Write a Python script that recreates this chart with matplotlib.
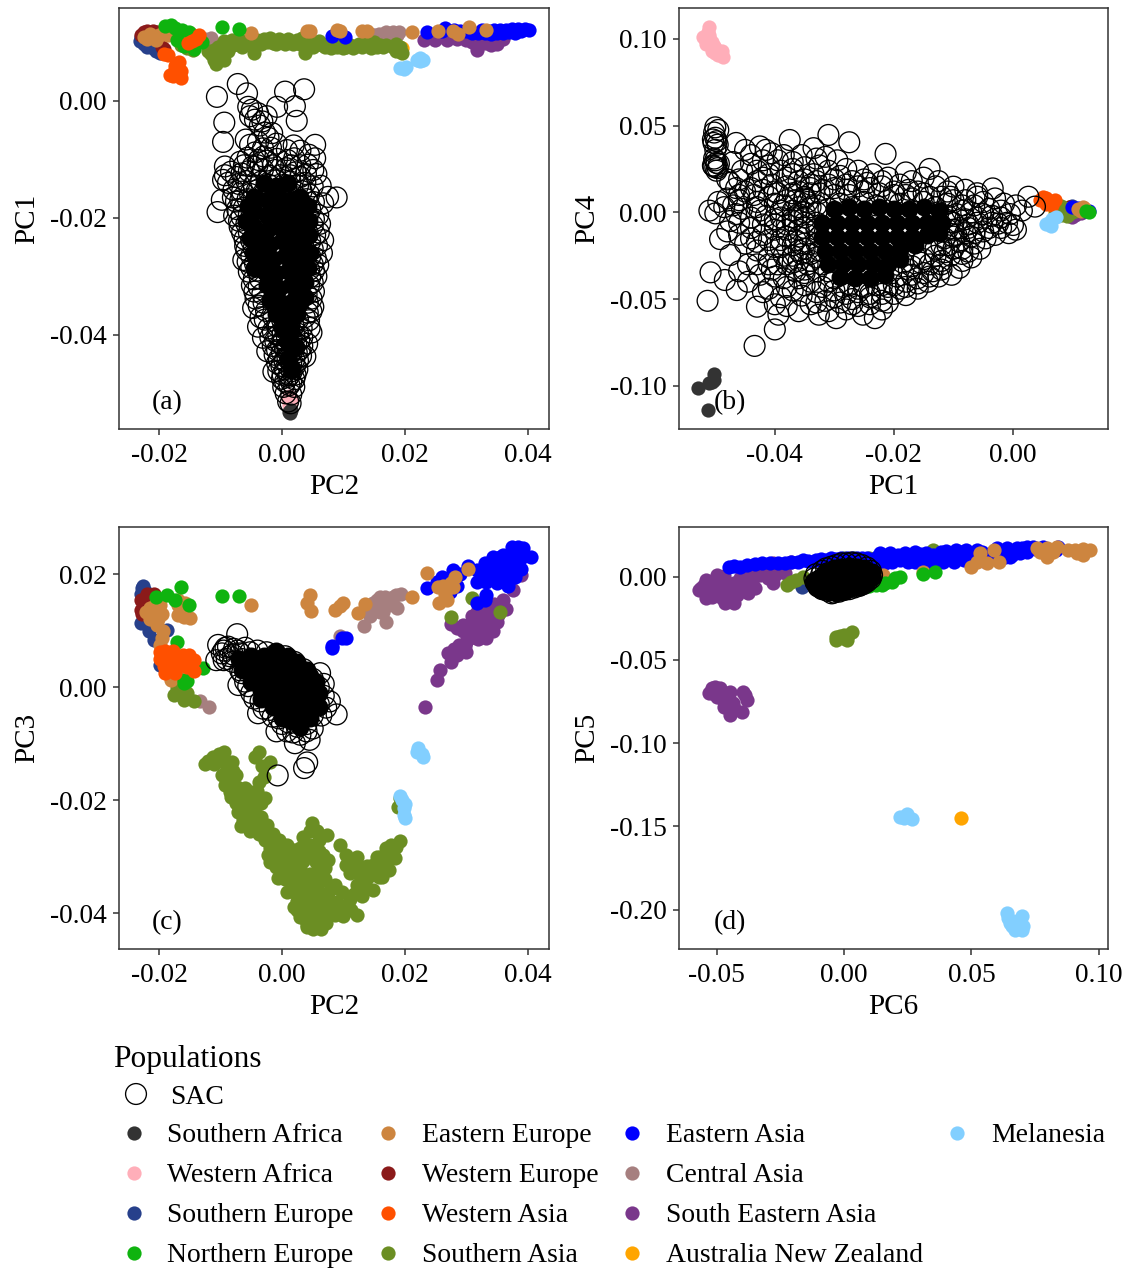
import numpy as np
import matplotlib
matplotlib.use('Agg')
import matplotlib.pyplot as plt

plt.rcParams['font.family'] = ['Liberation Serif', 'DejaVu Serif']
plt.rcParams['axes.unicode_minus'] = False

# panel (a): PC2 / PC1
a_sac = [-10.6,.7, -7.2,2.9, -5.7,1.3, .5,1.6, 3.6,2, 2.1,-.9, -.8,-1, 2.4,-3.4, -9.4,-3.7, -9.6,-7, -5.5,-1, -4.9,-1.5,
    -3.9,-2.1, -5.2,-2.6, -4.4,-3.2, -3.2,-3.5, -2.5,-2.6, -3.6,-4.2, -2.8,-5.4, -1.6,-5.5, -2.2,-6.3, -5.9,-6.6, -5.2,-7.5,
    -3.9,-7, -3.1,-8.1, -4.4,-8.8, -1.8,-8, -.9,-7.3, .8,-8.4, 1.9,-7.6, 3,-8.5, 5.4,-7.5, 5.4,-9.8, 5.1,-11.8, 4.4,-9.2,
    2,-9.8, .9,-10.1, -.8,-9.9, -2.5,-10.2, -3.8,-10.1, -5.6,-9.7, -6.8,-10.4, -9.3,-11.2, -9.3,-12.7, -8.3,-12.1, -6.6,-12.4,
    -5.4,-12, -3.1,-11.7, -1.1,-11.8, .7,-11.5, 2.2,-12.2, 3.9,-12.5, 5.6,-12.5, -10.5,-19, -9.8,-16.9, 8.9,-16.5, 7.5,-16.4,
    6.7,-23.8, 5.6,-30, 5.1,-35.2, 3.8,-43.7, -6.3,-27.2, -4.9,-31.5, -3.9,-38.6, -1.4,-46.3, -9.6,-13.5, -8.8,-14, -7.9,-15.2,
    6.3,-14.5, 6.7,-17.5, 5.9,-19.5, -7.5,-17.2, -7.8,-19.6, -6.9,-21.5, -6.1,-23.6, -5.8,-25.5, 6.5,-26, 5.9,-28, 5.2,-32.6,
    -5.4,-29.2, -4.3,-33.8, -4.7,-35.4, 4.4,-37.5, 4.8,-39.6, -3.1,-40.5, -2.4,-42.8, 4.1,-41.5,
    -7,-14.2, -5.8,-13.7, -4.6,-14.4, -3.4,-13.8, -2.2,-14.3, -1,-13.6, .2,-14.4, 1.4,-13.8, 2.6,-14.5, 3.8,-14, 5,-14.6,
    -6.5,-15.5, -5.2,-15.9, -4.1,-15.3, -2.8,-15.8, -1.6,-15.4, -.4,-16, .8,-15.5, 2,-16, 3.2,-15.4, 4.4,-16,
    -6.8,-17, -5.6,-16.8, -4.4,-17.3, -3.2,-16.9, -2,-17.4, -.8,-16.8, .4,-17.3, 1.6,-16.9, 2.8,-17.4, 4,-16.8, 5.2,-17.3,
    -6.2,-18.3, -5,-18.7, -3.8,-18.2, 3.4,-18.1, 4.6,-18.6, -6.6,-19.8, -5.4,-19.5, 4.2,-19.6, 5.2,-20.2,
    -5.8,-21, -4.6,-21.3, 3.8,-20.9, 5,-21.3, -5.4,-22.5, -4.2,-22.2, 4.2,-22.6, 5.4,-22.9,
    -5,-23.9, 4.6,-24, -4.6,-25.2, 5,-25.3, -5,-26.5, 4.6,-26.6, -4.4,-27.8, 5,-27.9, -4,-29, 4.4,-28.9,
    -3.6,-30.4, 4.6,-30.1, -3.8,-31.8, 4.4,-31.5, -3.2,-33, 4,-33.1, -3,-34.5, 4.2,-34.5, -2.6,-35.9, 4.2,-36.2,
    -2.8,-37.4, -1.4,-37, 0,-37.4, 1.3,-37, 2.6,-37.4, 3.7,-37,
    -2.2,-38.9, -.8,-38.5, .6,-38.9, 1.9,-38.5, 3.2,-38.9, -1.5,-39.4, .1,-39.8, 1.2,-39.3, 2.6,-39.8,
    -1.9,-40.4, -.6,-40, .8,-40.4, 2,-40, 3.3,-40.4, -1.1,-41, .2,-40.9, 1.5,-41, 2.8,-40.9,
    -1.5,-41.9, -.2,-41.5, 1,-41.9, 2.3,-41.5, 3.3,-41.9, -.8,-42.6, .5,-42.4, 1.7,-42.7, 2.9,-42.5,
    -1.2,-43.4, 0,-43, 1.2,-43.4, 2.4,-43, 3.1,-43.6, -.5,-44.1, .9,-44, 2,-44.2,
    -.8,-44.8, .4,-44.4, 1.5,-44.8, 2.6,-44.4, -.1,-45.3, 1,-45.3, 2.1,-45.3,
    -.6,-46.2, .5,-45.9, 1.6,-46.2, 2.5,-45.9, .1,-46.8, 1.2,-46.9, 2.2,-46.8,
    0,-47.5, 1,-47.2, 2,-47.6, .5,-48, 1.5,-48.1,
    .2,-48.9, 1.2,-48.6, 2,-48.9, .6,-50, 1.5,-50.2, 1,-51.4, 1.4,-51.7,
    -4,-11, -3,-9.5, -1.5,-11, -.3,-12.7, 1.5,-11, 3,-11, 4.2,-10.9, -4.8,-11.2, -2,-12.8, 1.3,-12.7, 3,-13, -7.5,-13, -6.2,-11, -8,-16.5,
    -7.3,-18.5, -7,-20.5, -6.5,-22.5, -6,-24.8, -5.6,-27.5, -5,-28.5, -4.6,-30.5, -4.5,-32.6, -3.8,-35, -3.5,-37, 6.2,-21, 6,-22.5, 5.7,-24.7,
    5.5,-26.9, 5.2,-29, 5,-31, 4.8,-33.8, 4.8,-36, 4.5,-38.8]
# the middle of the SAC cloud is saturated: single rings can't be read there, so it is drawn as solid discs
a_core = [-3,-14, -1,-14.5, 1,-14, -4.5,-16.5, -2.5,-17, -.5,-16.5, 1.5,-17, 3,-16.5, -4.5,-19, -2.5,-19.5, -.5,-19, 1.5,-19.5, 3,-19,
    -4.5,-21.5, -2.5,-22, -.5,-21.5, 1.5,-22, 3,-21.5, -4,-24, -2,-24.5, 0,-24, 2,-24.5, 3.5,-24, -3.5,-26.5, -1.5,-27, .5,-26.5, 2.5,-27, 3.5,-26.5,
    -3,-29, -1,-29.5, 1,-29, 3,-29.5, -2.5,-31.5, -.5,-32, 1.5,-31.5, 3,-32, -2,-34, 0,-34.5, 2,-34, 3,-34.5, -1,-36.5, 1,-36.5, 2.5,-36.5,
    -5.6,-18, -5.8,-20.5, 4.3,-18, 4.4,-20.5, 4.4,-23, -5.2,-23.5, -4.7,-26, -4.5,-28.5, 4.5,-26, 4.3,-28.5, 3.8,-31, 3.7,-33.5,
    0,-38.8, 1.5,-39, 1,-41.2, 2.2,-42, 1,-44, 1.6,-46]
a_safr = [1.3,-53, 1.2,-53.2, 1.5,-52.9, 1.3,-53.3]
a_wafr = [1.2,-50.5, 1.3,-50.9, 1,-51.2, 1.4,-51.5, 1.2,-52, 1.5,-50.8, 1.3,-52.4]
a_seur = [-23.2,10.2, -22.5,9.8, -22,9.2, -21,9, -20.5,8.5, -19.8,8.2, -23,11, -21.8,10]
a_neur = [-9.7,12.6, -7,12.3, -17.1,10.4, -13,10, -18,13, -19,12.8, -16.3,12.2, -15.2,11.8, -14.4,8.9, -16,9.4, -17.5,12.5]
a_eeur = [-5,11.6, 4,12, 4.6,11.9, 8.9,12.2, 9.5,11.9, 13,12, 13.8,12, 21.1,11.8, 25.4,11.9, 27.9,11.9, 28.7,11.5, 30.5,12.6,
    33.3,12.1, -22.5,11, -21.5,11.4, -21,10.9, -20,11.2, -19.5,11.5, -18.5,11.3, -22,10.6, -20.5,10.5, -17.1,11.8, -16,11.5, -15,11.6, -14.5,11.3]
a_weur = [-23,11.3, -22.5,11.8, -22,12, -21,12, -20.3,11.8, -19.2,8.9, -19.6,9.3]
a_wasi = [-18.2,4.4, -17.8,4.2, -16.8,4.3, -16.4,4, -17,5, -16.9,5.7, -17.5,6, -16.8,6.6, -17.3,6.1, -18.6,7.8, -19.3,8,
    -15.3,9.9, -14.6,10.2, -14,10.6, -13.6,11.3, -17.6,5, -16.5,5.2]
a_sasi = [-11.5,8, -11,7, -10.8,6.4, -10.2,7.5, -9.5,7, -9.5,8.8, -9.5,10.2, -8.8,8.6, -8.2,10.5, -7.5,9.8, -7,10.5, -6,9.9,
    -5.5,10.4, -5,10.7, -4.5,9.8, -4.5,8.2, -4,10.5, -3,10.6, -2.5,10, -2,10.8, -1,9.8, -.5,10.6, .5,9.8, 1,10.6, 1.8,9.7,
    2.5,10.4, 3,9.8, 3.8,10, 3.8,8.2, 4.5,10.3, 5.5,9.9, 6,10.2, 6.5,9.5, 7,9.3, 7.5,9.7, 8,9, 9,9.2, 9.5,9.6, 10,9, 10.5,9.3,
    11,9.5, 12,9.4, 12.5,9.8, 13,9.2, 13.5,9.7, 14,9.8, 15,10, 15.5,9.3, 16,9.5, 17,9.5, 18,9.3, 18.5,8.5, 19,8.6, 19.3,9.2,
    18.5,9.8, 19.5,8.2, -16.5,9.5, -15.5,9, -14.5,8.7, -8,9.5, -6.5,9.2, -3.5,9.8, -1.5,9.9, 0,10, 3.2,10.8, 5,9.3, 8.5,9.5, 11.5,9, 14.5,9, 16.5,9.2,
    -12,8.5, -11,8.7, -10.5,9.2]
a_easi = [8.1,11.1, 10.2,10.9, 23.6,11.8, 26,12, 26.5,12.4, 28,12.2, 29,12, 30,11.9, 31,11.7, 32,11.7, 32.5,12.1, 33,11.6,
    33.5,11.9, 34,11.5, 34.5,12.1, 35,11.7, 35.5,12.2, 36,11.7, 36.5,12.2, 37,11.8, 37.5,12.3, 38,11.7, 38.5,12.3, 39,12,
    39.5,12.3, 40.3,12.1]
a_casi = [-12.5,10.6, -11.5,10.8, 14.3,11.4, 15,11.2, 15.8,11.5, 16.5,11.5, 17,11.8, 17.5,11.4, 18,11.8, 18.7,11.2, 19,11.8, 18.3,11]
a_seas = [23.2,10.5, 25,10.5, 26.8,10.4, 28.5,10.6, 30,10.4, 31.7,8.8, 31,10, 32,10, 33,9.9, 34,9.6, 35,9.7, 35,10.5, 36,10.6, 29.5,10.9, 33,10.6]
a_anz = [19.5,9]
a_mel = [19.2,5.6, 19.8,5.5, 20.2,5.8, 22,7, 22.5,6.8, 23,7, 22.4,7.3]

# panel (b): PC1 / PC4
b_sac = [-50,49, -49.5,47.5, -50.2,46, -50,43, -50.4,42, -49.8,41, -50.3,40, -49.6,39, -50,36, -50.2,31, -50,30, -49.8,28.5,
    -49.4,28, -50.4,27, -50,26, -49.6,25.5, -50.3,26.5, -49.8,24, -48,19, -31,44.6, -27.5,40.4, -37.5,41.7, -21.4,33.7, -18,23,
    -14,25, -43.4,-77, -40,-67.5, -51.3,-51, -50.8,-34.6, -49.2,-15.4, -47.5,-24.6, -48.4,-39, -46.4,-44.8, -43,-54.4, -39.4,-59,
    -36,-57, -32.6,-59, -29.7,-61, -25.2,-59, -23.2,-61, -18,-47.7, -14.3,-40, -10.3,-36, -7.5,-22.7, -4.6,-15, -.7,-12, 0,-7.3,
    2.6,9, 3.7,3.3, -3.4,13.8, -10,14.8, -8,13, -50,-.6, -49.5,6, -51,1, -48.5,3, -48,8, -47,4, -46.5,-1, -46,7, -45.5,2, -47.5,-5,
    -46.5,40, -45,36, -44,33, -42.5,38, -41.5,36, -40.5,34, -39.5,30, -38.5,33, -42,30, -44,28, -45.5,24, -43,24, -41,22, -39,24,
    -37,22, -35,26, -33.5,22, -36,18, -34,16, -38,15, -40.5,16, -43,18, -31.5,32, -29.5,30, -32.5,27, -28,25, -26,24, -23.5,22,
    -30,19, -27,18, -24.5,17, -21,20, -19,16, -17,18, -15,20, -13,15, -11,12, -12.5,18, -6,11, -5,6, -3,8, -1.5,5, .5,4, 1.5,1,
    -.5,-1, -2,-3, -2.5,-6.5, -3.5,-2, -5,-1, -6,-6, -6.5,-12, -8,-4, -41,9, -40,5, -39,1, -41.5,-2, -38,7, -36,3, -37,-3, -34.5,6,
    -33,0, -35,-6, -44,-9, -42,-13, -40,-10, -38,-14, -36,-10, -45,-18, -43,-22, -41,-26, -39,-20, -37,-25, -35,-18, -44.5,-30,
    -42.5,-36, -40.5,-33, -38.5,-38, -36.5,-34, -34.5,-30, -41,-44, -39,-49, -37,-45, -35,-42, -33,-46, -34,-53, -31.5,-51, -29,-52,
    -27,-50, -31,-40, -28.5,-43, -26,-46, -24,-53, -22,-47, -20,-42, -18,-40, -16,-38, -12,-33, -8.5,-28, -10.5,-25, -12,-28,
    -6.5,-18, -4,-9, -9,-17, -7.5,-9, -10,-6, -11,-10,
    -33,4, -31,2, -29,5, -27,3, -25,6, -23,4, -21,7, -19,5, -17,8, -15,6, -13,3, -11,5,
    -12.5,0, -11,-2, -9.5,-1, -10.5,-5.5, -10,-10, -11.5,-15, -13,-21, -12,-19, -15,-27, -16.5,-25, -15.5,-29, -17,-31, -18.5,-29,
    -17.5,-33, -19.5,-37, -27.5,-42, -25,-43, -23,-42, -21,-43, -33,-26, -32,-30, -31,-34, -30,-38, -33,-18, -32.5,-22, -32.5,-14, -33,-10, -33,-6,
    -47.5,17, -46.5,14, -45,12, -43.5,10, -42,13, -39.5,11, -37,11, -35,9, -32.5,11, -30,10, -27.5,10, -25,12, -22.5,11, -20,12, -17.5,13, -15,11,
    -33.5,37, -35.5,33, -37,29, -33,31, -35,19, -31,24, -29,21, -41,27, -47,29, -46,19, -43,6, -42.5,1, -44,-3, -46,-6, -48,-11, -46,-13, -44,-15,
    -40,-4, -38,-7, -36,-1, -34.5,-13, -36.5,-16, -38.5,-25, -36,-22, -34,-24, -41,-16, -39.5,-30, -37,-29, -35,-35, -33,-34, -42,-46, -44.5,-40,
    -46,-34, -40,-53, -38,-54, -35.5,-48, -31,-57, -28,-56, -26,-54, -22,-56, -21,-52, -16,-44, -12.5,-37, -19,-44, -9,-32, -7,-26, -5.5,-21,
    -3,-13, -2,-9, .5,-10, -1,-6, -3.5,-6, -5,-11, -7,-14, -8.5,-21, -9.5,-13, -8.5,1, -6.5,4, -4,2, -2,1, -8,7, -6,9, -10.5,9,
    -36,12, -34,11, -32,13, -30,14, -28,13, -26,15, -24,14, -22,15, -20,10, -18,10, -16,12, -14,9, -12,9, -10,7, -8.5,4, -7,0, -6,-3, -7.5,-7, -9,-9, -8,-12,
    -10,-14, -11,-19, -10,-21, -8.5,-24, -13,-25, -14,-30, -11.5,-23, -12,-30, -13.5,-34, -15,-35, -17,-36, -14,-37, -16,-41, -18,-43, -20,-47, -22,-42, -24,-47,
    -26,-44, -28,-47, -30,-45, -32,-43, -34,-40, -36,-38, -35,-33, -34,-28, -36,-28, -38,-30, -35.5,-24, -35,-21, -37,-19, -39,-16, -36,-14, -38,-10, -35,-9,
    -37,-5, -35,-3, -37,1, -35,0, -39,-3, -38.5,4, -36.5,7, -34,3, -35,8, -40,-7, -42,-7, -43,-17, -40,-20, -41,-30, -43,-30, -40,-37, -38,-43, -33,-52, -30,-49,
    -27,-53, -24,-49, -22,-51, -34,14, -31,16, -28,16, -25,19, -22,18, -37,25, -42,20, -38,20, -33,18, -40,12, -44,14, -43,3, -46,10]
b_core = [-30,2, -27.5,3, -25,2, -22.5,3, -20,2, -17.5,2, -15,3, -12.5,1, -32,-6, -29.5,-6, -27,-6, -24.5,-6, -22,-6, -19.5,-6, -17,-6, -14.5,-6, -12,-6,
    -32,-14, -29.5,-14, -27,-14, -24.5,-14, -22,-14, -19.5,-14, -17,-14, -14.5,-13, -12.5,-12, -31.5,-22, -29,-22, -26.5,-22, -24,-22, -21.5,-22, -19,-21, -16.5,-19,
    -31,-30, -28.5,-30, -26,-30, -23.5,-30, -21,-30, -19,-27, -29,-37, -26.5,-38, -24,-38, -21.5,-36]
b_safr = [-50.2,-93, -50.3,-96.5, -50.6,-98, -51,-98.5, -52.9,-101, -51.3,-114]
b_wafr = [-51.3,104, -51,107, -51,102, -51.8,100, -51.2,99, -50.8,97, -50.3,96, -50,95, -49.8,93, -49.3,92, -49,91, -49.5,90.5,
    -48.8,93, -51,101, -50.5,98, -52,101, -51.5,97, -50.5,93, -48.7,89.5, -50,92]
b_seur = [10,3.5, 9.5,2.5]
b_neur = [12.7,0, 12.3,1]
b_eeur = [11,2, 11.5,1.5, 12,2.3, 11.5,1, 11.8,2.8]
b_weur = [9.5,3, 10,2]
b_wasi = [4.5,7, 5,9, 5.5,8, 6,6, 6.5,4.5, 5.5,5, 7,7]
b_sasi = [7.5,1.5, 8,.5, 8.5,-.5, 9,1, 9.5,2, 9.5,-1, 10,0, 10.5,1, 11,1.5, 8,3.5, 7,5, 7,2, 8,-1.5, 9,-2]
b_easi = [10,3, 11,2.5, 12,2, 12.7,1, 12.3,.5]
b_casi = [8.5,2.5]
b_seas = [10,-2.5, 10.5,-1.5, 11.5,-.5]
b_anz = [7,-.5]
b_mel = [5.5,-7, 6,-6, 6.5,-4, 7.3,-2.5, 6.4,-7.8]

# panel (c): PC2 / PC3
c_sac = [-7.3,9.4, -10.4,7.5, -10.7,4.8, -7.1,.4, -3.9,-4.6, -.9,-7.8, 2.1,-9.9, 4.5,-9.3, 4.1,-13.3, 3.6,-14.3, -.7,-15.6,
    8.9,-4.8, 7.8,-2.5, 6.2,2.5, .8,-7.8, 4,-7.8, -9.5,6.5, -8.8,7.2, -8.5,5.5, -9.8,6, -8,4.5, -7.2,6.5, -6,7, -6.5,5,
    -5.2,6.2, -4,6.5, -2.5,6.2, -1,5.8, .5,5.5, 2,4.5, 3.5,3.2, 5,1.5, 6,0, 6.8,-1.5, 6,-3, 5,-5, 4,-6.5, 2.5,-7, 1,-6.2,
    -.5,-5.5, -2,-4, -3.5,-2.5, -5,-1, -6,1, -6.8,3, -6.8,6, -7.8,6.8, -9,5, -9.5,4.8, -9.2,7, -8,5.8, -6.5,2.5, -5.5,.2, -4.5,-2, -3,-3.8,
    -1.5,-5.2, 0,-6.5, 1.8,-8, 3,-8.4, 5,-7.3, 6.4,-5, 7.2,-3.6, 6.8,.6]
c_core = [-5.5,4.5, -4,4, -4.5,2.5, -3,3.5, -3,2, -3,.5, -1.5,5.5, -1.5,4, -1.5,2.5, -1.5,1, -1.5,-.5, -1.5,-2, 0,5, 0,3.5, 0,2, 0,.5, 0,-1, 0,-2.5, 0,-4,
    1.5,4.5, 1.5,3, 1.5,1.5, 1.5,0, 1.5,-1.5, 1.5,-3, 1.5,-4.5, 3,3.5, 3,2, 3,.5, 3,-1, 3,-2.5, 3,-4, 3,-5.5, 4.5,2, 4.5,.5, 4.5,-1, 4.5,-2.5, 4.5,-4, 5.5,-2, -3.5,-.5,
    -7,5, -6.5,3, -5,1, -3.5,-2, -1.5,-3.5, 0,-5.5, 1.5,-6, 3,-7, 4.5,-5.5, 6,-3.5, 6,-1, 5.5,1, 4,3, 2.5,4.5, 1,5.5, -1,6.5, -3,5.5, -5,5.5]
c_safr = []
c_wafr = []
c_seur = [-22.8,17.5, -22.3,17, -22.9,11.3, -21.7,9.9, -20.9,8.4, -18.7,10.1, -19.9,4, -22.5,12, -21.5,11, -22.6,18, -23,16.5]
c_neur = [-9.7,16.2, -7,16.2, -16.4,17.7, -18.7,16.3, -15.2,14.6, -17.1,8, -16,1.3, -12.9,3.4, -20.5,16, -14.8,4.5, -17.5,15.5, -15.5,1.2, -16,.8]
c_eeur = [23.6,20.2, 25.4,17.8, 28.2,19.6, 27.9,17.8, 26.8,15.5, 25.5,14.9, 30.3,21, 21.1,15.9, 13.5,14.7, 12.4,13.1, 10,15, 8.7,13.6,
    9.4,14.4, 4.5,16.3, 4,15, 4.7,13.5, -5,14.6, -16.9,15.5, -22.1,13.4, -21,12.8, -19.9,14.6, -20.4,11, -19.6,8.7, -19.4,10,
    -15,12.2, -16.9,12.8, -16,12.4, -21.5,14, -20.5,15, -19.5,13, -16.5,14, -16.9,3.4, -18,1.3, -21.5,12, -20.7,13.5, -20.2,12, -19.8,7.5,
    -16,13.5, -17,14.5, -15.8,15, 27.5,18.5, 26.5,16.5, 26.2,17.9]
c_weur = [-23,15.5, -22.4,15.5, -23,13.7, -20.9,16.6, -22.5,14.5, -21.5,15.8, -22.8,13, -22,16.5]
c_wasi = [-19.9,6.3, -18.2,5.7, -17.1,5.4, -15.2,5.7, -14.4,4.8, -19,2.5, -17.6,4, -14.4,2.8, -19.9,5, -18.6,4, -16,4.6, -18.2,3, -16.9,4.8,
    -15.5,3.6, -19,6.5, -18.9,5, -17.8,6.4, -16.2,5.8, -15,4.4, -17.5,2.6, -19.3,3.8]
c_sasi = [-12.5,-13.5, -12,-13, -11.2,-12.4, -10.3,-11.8, -9.5,-11.4, -8.2,-13.2, -9,-14.5, -8.6,-16, -9.3,-17.3, -8.4,-18.5, -7.4,-17.6,
    -6.3,-18.5, -5,-18.6, -2.7,-19.6, -7.1,-22, -5.2,-25.5, -2.5,-24.4, -1.4,-27.9, .8,-27.9, -2.3,-29.7, -.7,-33.8, .8,-36.2,
    2.4,-37.9, 3,-40.6, 4,-42.4, 6.3,-42.8, 4.9,-24.1, 7.3,-26.1, 6.7,-29.7, 4.5,-27.9, 3,-28.5, 7,-32, 8.7,-35, 9.8,-36.2,
    6,-36.2, 5.4,-40.2, 8.7,-40.3, 12.2,-40.3, 10.7,-38.5, 9.5,-27.9, 10.5,-29.7, 10.5,-31.5, 12.2,-30, 13.8,-31.7, 12.2,-35, 13,-37,
    14.9,-35.9, 16.3,-33.5, 17.4,-32.3, 15.4,-30, 17,-28.5, 19.2,-27.2, 18.4,-30.3, 12.5,-33, 14,-33.5, 13.5,-34.5, 16,-31.5, 17.8,-28,
    -3.8,-11.4, -4.4,-12.4, -1.9,-13.2, -3.2,-14, -3.7,-16.7, -3,-15.8, -8.3,-19.5, -7.5,-20.5, -6.5,-21, -5.5,-22, -4.5,-20.5, -6.3,-23.5,
    -4.8,-23.5, -3.5,-23, -3.7,-26, -2.8,-27, -1.5,-26, -2,-31, -1,-30, -.5,-28.5, 1,-30, 2.5,-30, 4,-30, 5.5,-31, 6,-27, 0,-32, 1.5,-32,
    3,-32, 4.5,-33, .5,-34, 2,-34, 3.5,-35, 5,-35, 7,-34, 1.5,-36, 3,-37, 4.5,-37.5, 6,-38.5, 7.5,-37.5, 9,-38, 2.5,-39.5, 4,-39.5,
    5.5,-41.5, 7,-40.5, 10,-40.5, 3.8,-41, 19.2,-19.6, 18.9,-21.1, -17.1,-.2, -17.6,-1.4, -16,-2.2, -14.4,-2.5, -16.5,-.5, -15.4,-1,
    30.9,15.8, 35.5,13.4, 27.5,12.5, -11,-13.5, -10,-13, -9.8,-15.5, -7.5,-15.5, -8,-14.8, -7.7,-19, -6,-19.8, -6,-17.8, -4,-18.3,
    -6.7,-24.5, -5.7,-24, -4.4,-22, -3.4,-20.5, -4,-25, -2.8,-25.5, -2,-28.5, -.5,-27, -1,-31.8, .2,-31, 2,-28.8, 3.5,-26.5, 4.5,-25.5,
    5.7,-25.5, 6,-29, 5,-29, 3.5,-30.8, 1.5,-33.5, 3.5,-33.3, 5.5,-33, 6.2,-31.5, 7.5,-30.5, 2.7,-35.5, 4.2,-36, 6,-34.5, 7.8,-35.8, 6.8,-37.3,
    5.3,-38.5, 3.5,-38.7, 2,-38.8, 4,-42, 5,-42.8, 7.2,-41.7, 8,-39, 9.5,-39.5, 11.3,-39.5, 11,-37.5, 11.5,-30.8, 11,-32.8, 12,-31.5, 13,-33, 13.2,-35.8,
    11.8,-36.5, 15,-33, 15.8,-33.5, 16,-30, 17.5,-30, 18.5,-28.2, 14.8,-31.5, 17,-31.3]
c_easi = [8.1,7.3, 8.1,6.9, 10.4,8.8, 9.7,8.7, 23.6,17.5, 25.2,18.7, 27.9,20.8, 27.3,16.9, 30.3,21.4, 31.7,20.8, 31.7,18.7, 33.3,18.7,
    38.4,24.9, 39.2,24.7, 40.5,23, 34.4,23.1, 37,21.5, 36.5,19.2, 31.7,14.9, 33,15.5, 33.3,16.4, 35,22, 36,23.5, 35.5,20.5, 37.5,23.5,
    38,22.5, 39,22.8, 39,21, 38,19.5, 36.8,18, 35,18.5, 34,20, 33.5,21.5, 33,22, 37.5,24.8, 38.6,23.8, 37.8,20.5, 36,21.5, 34.5,21, 35.5,23,
    33,20.5, 32.5,19.5, 29,20, 37,22.8, 38.3,21.5, 37.3,19.3, 36,20, 35,19.5, 34.4,22, 26,19.5, 28.5,18]
c_casi = [13.4,10.9, 17,11.6, 19.4,16.6, 18,15.9, 16.4,14.7, 14.9,15, 14.3,12.6, 15.9,13.4, 17.5,14.6, 18.7,14, 15.4,15.5, 9.4,9,
    -13.3,-2.5, -11.9,-3.4, 14,13.5, 16.8,16, 18.5,16.3, 15,14, 16.5,13.3, 17.5,15.7, 14.8,14.5, 16,16]
c_seas = [23.3,-3.5, 25.3,1.3, 25.7,3.1, 27.1,6, 28.5,5.7, 30,6.3, 28.9,7.5, 27.6,4.5, 27.5,11.2, 29.5,11, 30.6,8.7, 32.8,9.3,
    34.4,9.9, 33.8,11.6, 35.2,12.8, 31.7,13.4, 33.3,14, 36,15.5, 37.7,17.2, 39,19.9, 31.2,11.6, 29.5,9.9, 31.7,10.6, 32.5,12, 34,13, 30,8,
    28,6.8, 29.8,7.3, 31,9.2, 32,8.5, 33.3,8.8, 33.8,10.5, 35,11.5, 34.5,14.8, 35,14, 32.2,14.5, 31,12.6, 30.5,11, 28.5,10.5, 32.8,12.8, 36.5,13.8, 33,10.5]
c_anz = []
c_mel = [22.2,-10.8, 23,-12.3, 22,-11.5, 22.8,-11.8, 19.5,-19.9, 19.8,-21.4, 20,-23.2, 19.8,-22.6, 20,-20.6, 19.3,-19.2]

# panel (d): PC6 / PC5
d_sac = [-4.8,-10, -11.6,-1, -11,1.5, -11,-3.5, -10,-6, -8.5,3.5, -7,5, -5,6, -3,7, -1,8, 1,8, 3,8.5, 5,8, 7,7, 9,5.5, 10.5,3.5, 11,1,
    10.5,-1, 9,-3, 7.5,-4.5, 6,-5.5, 4,-6.5, 2,-7.5, 0,-8, -2,-9, -4,-9.5, -6.5,-8.5, -8.5,-7.5, -9,1, -8,-1, -9.5,-2.5, -8,-4, -6.5,2,
    -6,-5.5, -2.5,-5.5, -2,-7.5, -1,-6.5, 2,-5.5, 6.5,-3.5, 8,-2]
d_core = [-10,-4, -7,-6, -7,-1, -4,-7, -4,-2, -4,2, -1,-6, -1,-1, -1,3, 2,-5, 2,0, 2,3, 5,-4, 5,0, 5,3, 8,-1, 8,2, 9.5,1,
    -12,-3, -11,-6, -9,-8, -6,-9, -3,-9.5, 0,-8.5, 3,-7, 6,-6, 9,-3, 11,0, 11,3, 8,5, 5,6, 2,6.5, -1,6, -4,5, -7,3, -9.5,0]
d_safr = []
d_wafr = []
d_seur = [-16.6,-6, -15,-4.5]
d_neur = [35.7,3, 31,1.4, 22,-.4, 20,-1, 18.7,-3, 16,-4, 14.8,-5, 12.5,-5, 10,-5.5]
d_eeur = [93.6,16.6, 90.6,16, 96.5,16, 88,16, 93.9,13, 91.5,14, 83.4,18, 79.5,17, 75.6,17, 79.5,12, 77,15, 82,15, 53.3,14, 50,6,
    52,9, 56,8, 61,9, 59,16, 31,3, 15.4,1, 10.2,-4, 12.5,-2]
d_weur = []
d_wasi = []
d_sasi = [-3,-36.4, 1,-38, 3,-33.4, 0,-35, -3,-38, -1.5,-35.5, 1.5,-35, -.5,-37, -22.5,-5, -19,-2, -21,-3, 35,16, 35,9, 36,12, 10,11,
    0,11, -2,10, 4,11, 7,10, -16,0]
d_easi = [-45,6, -43,6.5, -41,6, -38,7, -35,7.5, -32,8, -29,8, -26,8, -23,8.5, -21,9, -18,9, -16,10, -14,9.5, -11,10, -9,10.5, -7,10,
    -5,11, -3,10.5, -1,11, 1,11, 3,11, 5,11.5, 7,11, 9,11.5, 13,12, 15,11, 17,13, 19,12, 21,13, 23,12, 25,11, 27,13.5, 29,11, 30,13.5,
    32,14.5, 34,11, 35,13, 38,15, 40,12, 42,14, 44,11, 46,15, 48,12, 50,14, 52,11.5, 54,15, 56,12.5, 58,14, 60,15, 62,12.5, 64,14.5,
    66,13, 68,15, 70,17, 72,15, 74,18, 76,16, 78,18, 80,16, 84,18, 83,16, 13,9.5, 16,8.5, 19,9, 22,10, 25,9, 28,9, 31,10, 33,9,
    37,10, 39,9, 41,11, 43,9, 45,12, 47,10, 49,10, 51,9, 55,9.5, 57,11, 59,12, 61,11.5, 63,12, 65,12, 67,14, 69,14.5,
    14,14, 18,14.5, 24,14.5, 28,15, 40,15.5, 44,16, 48,16, 52,16, 60,17, 64,17, 68,17.5, 72,18]
d_casi = [13.5,2, 11.5,0, 12.5,-2.5]
d_seas = [-57,-8, -54,-13, -46.7,-16, -43,-16, -37.5,-10, -35,-7, -54,-2, -50,1, -47,.5, -43,-4, -39,-8, -38,6, -33,7, -28,8, -28,-4,
    -23,2, -21,9, -55,-5, -52,-8, -50,-11, -48,-7, -46,-10, -44,-11, -42,-7, -41,-1, -39,-4, -37,1, -35,3, -33,1, -31,3, -29,1, -26,4,
    -52,-70, -53,-70, -52,-67, -50.5,-66, -48.6,-67, -44.7,-69, -39.5,-69, -38,-74, -47,-78, -44.7,-83, -40,-81, -43,-79, -50,-72,
    -48,-73, -47,-75, -43.5,-76, -39,-71, -56,-7, -54,-7, -52,-4, -50,-3, -48,-2, -46,-4, -44,-8, -42,-11, -40,-5, -38,-1, -36,-4, -52,-12, -48,-13,
    -46,-14, -44,-13, -33,4, -30,5, -27,1, -30,-1]
d_anz = [46,-145]
d_mel = [22,-144.6, 24.8,-142.6, 26.5,-145.4, 23.5,-145, 63.8,-202, 70,-204, 65,-208, 67,-212, 69.7,-212, 70.3,-210, 67.7,-207, 68.5,-209,
    66,-210, 64.5,-205, 69,-206]

pop_names = ['Southern Africa', 'Western Africa', 'Southern Europe', 'Northern Europe', 'Eastern Europe', 'Western Europe',
             'Western Asia', 'Southern Asia', 'Eastern Asia', 'Central Asia', 'South Eastern Asia', 'Australia New Zealand', 'Melanesia']
pop_keys = ['safr', 'wafr', 'seur', 'neur', 'eeur', 'weur', 'wasi', 'sasi', 'easi', 'casi', 'seas', 'anz', 'mel']
pop_cols = ['#333333', '#FFAEB9', '#27408B', '#0FB30F', '#CD853F', '#8B1A1A', '#FF5000', '#6B8E23', '#0000FF', '#A67F7F', '#7A378B', '#FFA500', '#82CFFF']
# later in this list = on top
draw_order = ['anz', 'seas', 'seur', 'weur', 'casi', 'sasi', 'easi', 'eeur', 'neur', 'wasi', 'mel', 'wafr', 'safr']

panels = {
    'a': dict(sac=a_sac, core=a_core, rect=(119, 8, 549, 429), xlim=(-.02655, .04349), ylim=(-.0561, .0159),
              xticks=[-.02, 0, .02, .04], yticks=[-.04, -.02, 0], xlabel='PC2', ylabel='PC1'),
    'b': dict(sac=b_sac, core=b_core, rect=(679, 8, 1108, 429), xlim=(-.0561, .01597), ylim=(-.1249, .1178),
              xticks=[-.04, -.02, 0], yticks=[-.10, -.05, 0, .05, .10], xlabel='PC1', ylabel='PC4'),
    'c': dict(sac=c_sac, core=c_core, rect=(119, 527, 549, 949), xlim=(-.02655, .04349), ylim=(-.04632, .02837),
              xticks=[-.02, 0, .02, .04], yticks=[-.04, -.02, 0, .02], xlabel='PC2', ylabel='PC3'),
    'd': dict(sac=d_sac, core=d_core, rect=(679, 527, 1108, 949), xlim=(-.06476, .1036), ylim=(-.2236, .02985),
              xticks=[-.05, 0, .05, .10], yticks=[-.20, -.15, -.10, -.05, 0], xlabel='PC6', ylabel='PC5'),
}

W, H = 1132, 1270
dot_s = 105
ring_s = 225
core_s = 168
dark = '#333333'


def pts(v):
    a = np.array(v, dtype=float).reshape(-1, 2) / 1000
    return a[:, 0], a[:, 1]


fig = plt.figure(figsize=(W / 100, H / 100), dpi=100)
for tag, p in panels.items():
    x0, y0, x1, y1 = p['rect']
    ax = fig.add_axes([x0 / W, 1 - y1 / H, (x1 - x0) / W, (y1 - y0) / H])
    for key in draw_order:
        x, y = pts(globals()[tag + '_' + key])
        if len(x):
            ax.scatter(x, y, s=dot_s, color=pop_cols[pop_keys.index(key)], linewidths=0)
    x, y = pts(p['sac'])
    ax.scatter(x, y, s=ring_s, facecolors='none', edgecolors='black', linewidths=.95)
    x, y = pts(p['core'])
    ax.scatter(x, y, s=core_s, color='black', linewidths=0)
    ax.set_xlim(p['xlim'])
    ax.set_ylim(p['ylim'])
    ax.set_xticks(p['xticks'])
    ax.set_yticks(p['yticks'])
    ax.set_xticklabels(['%.2f' % t for t in p['xticks']])
    ax.set_yticklabels(['%.2f' % t for t in p['yticks']])
    ax.tick_params(length=4.4, width=1.1, color=dark, labelsize=19.7)
    ax.tick_params(axis='x', pad=5.8)
    ax.tick_params(axis='y', pad=4.2)
    ax.set_xlabel(p['xlabel'], fontsize=21)
    ax.set_ylabel(p['ylabel'], fontsize=21, labelpad=7)
    ax.xaxis.set_label_coords(.5, -.107, transform=ax.transAxes)
    for s in ax.spines.values():
        s.set_color(dark)
        s.set_linewidth(1.1)
    ax.text((167.5 - x0) / (x1 - x0) if tag in 'ac' else (729.5 - x0) / (x1 - x0), .062, '(%s)' % tag,
            transform=ax.transAxes, fontsize=20, ha='center', va='center')

# legend drawn in pixel coordinates
leg = fig.add_axes([0, 0, 1, 1])
leg.set_xlim(0, W)
leg.set_ylim(H, 0)
leg.axis('off')
leg.patch.set_alpha(0)
leg.text(113, 1059, 'Populations', fontsize=22.6, va='center')
leg.scatter([136], [1094], s=ring_s, facecolors='none', edgecolors='black', linewidths=.95)
leg.text(170, 1097, 'SAC', fontsize=19.9, va='center')
col_key = [134, 388, 632, 957]
col_txt = [167, 422, 666, 991]
row_y = [1133, 1173, 1213, 1253]
for i, name in enumerate(pop_names):
    c, r = i // 4, i % 4
    leg.scatter([col_key[c]], [row_y[r]], s=dot_s, color=pop_cols[i], linewidths=0)
    leg.text(col_txt[c], row_y[r] + 2, name, fontsize=19.9, va='center')

fig.savefig('out.png', dpi=100)
